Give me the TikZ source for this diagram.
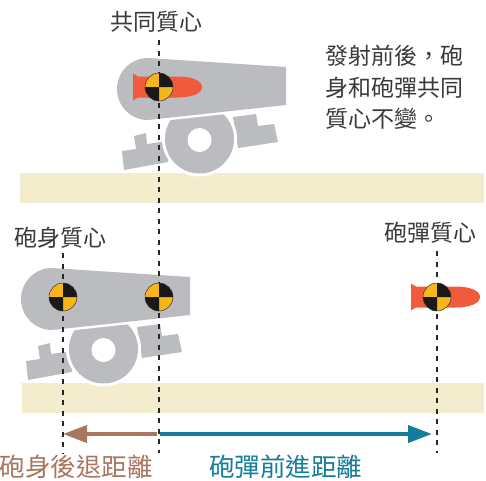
\documentclass[tikz,border=0pt]{standalone}
\usepackage{fontspec}
\newfontfamily\cjk{Noto Sans CJK TC}
\usetikzlibrary{arrows.meta}

\definecolor{gunmetal}{HTML}{BBBCBF}
\definecolor{groundband}{HTML}{F3EDCD}
\definecolor{shellred}{HTML}{F15B3B}
\definecolor{markyellow}{HTML}{F7B519}
\definecolor{recoilbrown}{HTML}{A9765F}
\definecolor{flightteal}{HTML}{167C9B}
\definecolor{inkgray}{HTML}{3A3A3A}

\tikzset{
  % a cannon drawn around the centre of mass of its barrel
  cannon/.pic={
    \fill[gunmetal] (-37,64) -- (-23,62) -- (-25,49) -- (-13,46) -- (-12,57)
      -- (9,54) -- (9,75) -- (-35,83) -- cycle;
    \fill[gunmetal] (74,30) -- (97,27) -- (99,39) -- (115,37) -- (119,55)
      -- (79,61) -- cycle;
    \fill[white] (40.5,52) circle[radius=37.5];
    \fill[gunmetal] (40.5,52) circle[radius=34.5];
    \fill[white] (40.5,53) circle[radius=12];
    \fill[gunmetal, preaction={draw=white, line width=5pt, line join=round}]
      (-11,-29) -- (127,-20) -- (127,18) -- (-11,33)
      arc[start angle=90, end angle=270, radius=31] -- cycle;
  },
  % a shell drawn around its centre of mass
  shell/.pic={
    \fill[shellred] (-26,-13.5) -- (-21,-10.5) -- (18,-10.5)
      .. controls (34,-10.5) and (43,-6) .. (43,0)
      .. controls (43,6) and (34,10.5) .. (18,10.5)
      -- (-21,10.5) -- (-26,13.5) -- cycle;
  },
  cmmark/.style={circle, minimum size=28pt, inner sep=0pt, fill=markyellow,
    draw=black!80, line width=0.5pt,
    path picture={
      \fill[black!90] (path picture bounding box.center) -- ++(15pt,0pt)
        arc[start angle=0, end angle=90, radius=15pt] -- cycle;
      \fill[black!90] (path picture bounding box.center) -- ++(-15pt,0pt)
        arc[start angle=180, end angle=270, radius=15pt] -- cycle;
    }},
  cmline/.style={draw=black!85, line width=2.2pt, dash pattern=on 5pt off 5.5pt},
  lbl/.style={inner sep=0pt, text=inkgray, font=\cjk\fontsize{23pt}{23pt}\selectfont},
  distlbl/.style={inner sep=0pt, font=\cjk\fontsize{25.5pt}{25.5pt}\selectfont},
  shift arrow/.style={line width=4pt, -{Triangle[length=24pt, width=17pt]}},
}

\begin{document}
\begin{tikzpicture}[x=1pt, y=-1pt]
  \useasboundingbox (0,0) rectangle (486,480);

  % ground strips
  \fill[groundband] (20,173) rectangle (484,203);
  \fill[groundband] (22,383) rectangle (484,413);

  % before firing
  \pic at (159,87) {cannon};
  \pic at (159,87) {shell};

  % after firing
  \pic at (63,297) {cannon};
  \pic at (437,297) {shell};

  % distances travelled
  \coordinate (recoilStart) at (157,434);
  \coordinate (recoilEnd) at (63,434);
  \coordinate (flightStart) at (160,434);
  \coordinate (flightEnd) at (432,434);
  \draw[shift arrow, recoilbrown] (recoilStart) -- (recoilEnd);
  \draw[shift arrow, flightteal] (flightStart) -- (flightEnd);

  % centre of mass guides
  \coordinate (commonTop) at (159,40);
  \coordinate (commonBot) at (159,453);
  \coordinate (bodyTop) at (63,253);
  \coordinate (bodyBot) at (63,453);
  \coordinate (shellTop) at (437,251);
  \coordinate (shellBot) at (437,453);
  \draw[cmline] (commonTop) -- (commonBot);
  \draw[cmline] (bodyTop) -- (bodyBot);
  \draw[cmline] (shellTop) -- (shellBot);

  % centre of mass markers
  \node[cmmark] (cmBefore) at (159,87) {};
  \node[cmmark] (cmBody) at (63,297) {};
  \node[cmmark] (cmCommon) at (159,297) {};
  \node[cmmark] (cmShell) at (437,297) {};

  % labels
  \node[lbl] (commonLbl) at (156,22) {共同質心};
  \node[lbl, anchor=west] (note1) at (325,56) {發射前後，砲};
  \node[lbl, anchor=west] (note2) at (325,88) {身和砲彈共同};
  \node[lbl, anchor=west] (note3) at (325,119) {質心不變。};
  \node[lbl] (bodyLbl) at (60.5,238) {砲身質心};
  \node[lbl] (shellLbl) at (430.5,233) {砲彈質心};
  \node[distlbl, text=recoilbrown] (recoilLbl) at (76,467) {砲身後退距離};
  \node[distlbl, text=flightteal] (flightLbl) at (285.5,467) {砲彈前進距離};
\end{tikzpicture}
\end{document}
